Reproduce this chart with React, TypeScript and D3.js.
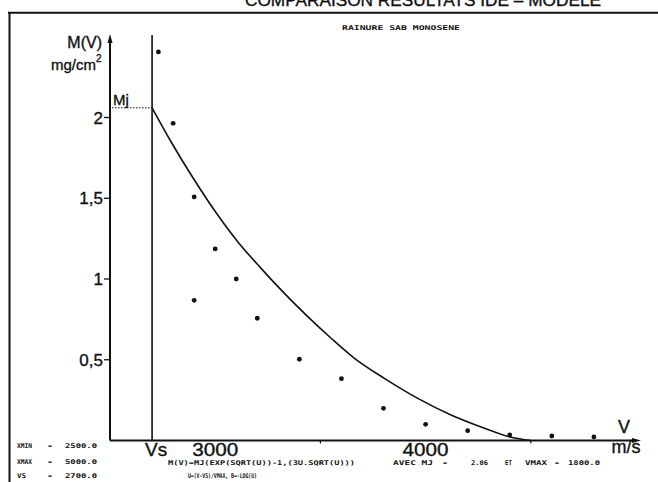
import React from "react";
import * as d3 from "d3";

// Measured points (IDE results): velocity V (m/s) and mass M(V) (mg/cm²)
const pointV = [2730, 2800, 2900, 2900, 3000, 3100, 3200, 3400, 3600, 3800, 4000, 4200, 4400, 4600, 4800];
const pointM = [2.406, 1.964, 1.508, 0.868, 1.186, 1.0, 0.757, 0.503, 0.383, 0.199, 0.1, 0.061, 0.034, 0.028, 0.022];

// Model curve
const curveV = [2700, 2790, 2901, 3012, 3107, 3218, 3329, 3440, 3551, 3662, 3804, 3963, 4121, 4280, 4406, 4500];
const curveM = [2.06, 1.85, 1.613, 1.396, 1.231, 1.066, 0.911, 0.767, 0.633, 0.509, 0.385, 0.261, 0.158, 0.076, 0.02, 0];

const yTicks = [0.5, 1, 1.5, 2];
const yTickLabels = ["0,5", "1", "1,5", "2"];
const xLabelTicks = [3000, 4000];
const xLabels = ["3000", "4000"];
const xMinorTicks = [3500, 4500];

const VS = 2700;
const MJ = 2.06;
const XMIN = 2500;
const XMAX = 5000;

const W = 658;
const H = 482;

const mono = "'DejaVu Sans Mono', monospace";
const sans = "'Liberation Sans', Arial, sans-serif";
const ink = "#111";
const thick = { stroke: ink, strokeWidth: 0.35 };

function Small({ x, y, w, t }: { x: number; y: number; w: number; t: string }) {
  return (
    <text x={x} y={y} fontFamily={mono} fontSize={6.5} fontWeight="bold" textLength={w} lengthAdjust="spacingAndGlyphs" fill={ink}>
      {t}
    </text>
  );
}

export default function App() {
  const x = d3.scaleLinear().domain([XMIN, XMAX]).range([110, 636]);
  const y = d3.scaleLinear().domain([0, 2.5]).range([440.5, 36.75]);

  const curveData = curveV.map((v, i) => [v, curveM[i]] as [number, number]);
  const line = d3
    .line<[number, number]>()
    .x((d) => x(d[0]))
    .y((d) => y(d[1]))
    .curve(d3.curveMonotoneX);

  const x0 = x(XMIN);
  const y0 = y(0);
  const xs = x(VS);

  return (
    <svg width={W} height={H} style={{ position: "absolute", left: 0, top: 0, background: "#fff" }}>
      <rect x={0} y={0} width={W} height={H} fill="#fff" />
      {/* title (cut at top) */}
      <text x={245} y={6} fontFamily={sans} fontSize={17} textLength={356} lengthAdjust="spacingAndGlyphs" fill={ink} {...thick}>
        COMPARAISON RESULTATS IDE – MODELE
      </text>
      {/* frame */}
      <line x1={8} x2={W} y1={12.8} y2={12.8} stroke={ink} strokeWidth={2} />
      <line x1={9.5} x2={9.5} y1={12} y2={H} stroke={ink} strokeWidth={2} />

      <Small x={342} y={30} w={118} t="RAINURE  SAB MONOSENE" />

      {/* axes */}
      <line x1={x0} x2={x0} y1={y0} y2={40} stroke={ink} strokeWidth={2} />
      <path d={`M${x0 - 2.5},${43} L${x0},${34} L${x0 + 2.5},${43} Z`} fill={ink} />
      <line x1={x0} x2={634} y1={y0} y2={y0} stroke={ink} strokeWidth={2} />
      <path d={`M${632},${y0 - 2.5} L${641},${y0} L${632},${y0 + 2.5} Z`} fill={ink} />

      {/* Vs line */}
      <line x1={xs} x2={xs} y1={35} y2={y0} stroke={ink} strokeWidth={1.6} />

      {/* y ticks */}
      {yTicks.map((t, i) => (
        <g key={t}>
          <line x1={x0 - 6} x2={x0} y1={y(t)} y2={y(t)} stroke={ink} strokeWidth={1.3} />
          <text x={x0 - 7} y={y(t)} dy="0.36em" textAnchor="end" fontFamily={sans} fontSize={17} fill={ink} {...thick}>
            {yTickLabels[i]}
          </text>
        </g>
      ))}

      {/* x ticks */}
      {xMinorTicks.map((t) => (
        <line key={t} x1={x(t)} x2={x(t)} y1={y0} y2={y0 + 3} stroke={ink} strokeWidth={1.2} />
      ))}
      {xLabelTicks.map((t, i) => (
        <text key={t} x={x(t)} y={456} textAnchor="middle" fontFamily={sans} fontSize={19} textLength={46} lengthAdjust="spacingAndGlyphs" fill={ink} {...thick}>
          {xLabels[i]}
        </text>
      ))}
      <text x={xs + 4} y={456} textAnchor="middle" fontFamily={sans} fontSize={19} fill={ink} {...thick}>
        Vs
      </text>

      {/* axis titles */}
      <text x={102} y={48} textAnchor="end" fontFamily={sans} fontSize={16} fill={ink} {...thick}>
        M(V)
      </text>
      <text x={96} y={70} textAnchor="end" fontFamily={sans} fontSize={15} fill={ink} {...thick}>
        mg/cm
      </text>
      <text x={96} y={62} fontFamily={sans} fontSize={10} fill={ink} {...thick}>
        2
      </text>
      <text x={624} y={433} textAnchor="middle" fontFamily={sans} fontSize={18} fill={ink} {...thick}>
        V
      </text>
      <text x={626} y={453} textAnchor="middle" fontFamily={sans} fontSize={18} fill={ink} {...thick}>
        m/s
      </text>

      {/* Mj */}
      <line x1={x0 + 2} x2={xs} y1={y(MJ)} y2={y(MJ)} stroke={ink} strokeWidth={1} strokeDasharray="1.5 1.5" />
      <text x={113} y={105} fontFamily={sans} fontSize={15} fill={ink} {...thick}>
        Mj
      </text>

      {/* model curve */}
      <path d={line(curveData) || ""} fill="none" stroke={ink} strokeWidth={1.6} />

      {/* measured points */}
      {pointV.map((v, i) => (
        <circle key={i} cx={x(v)} cy={y(pointM[i])} r={2.4} fill={ink} />
      ))}

      {/* bottom parameter texts */}
      <Small x={17} y={448} w={15} t="XMIN" />
      <Small x={48} y={448} w={4} t="=" />
      <Small x={65} y={448} w={32} t="2500.0" />
      <Small x={17} y={464} w={15} t="XMAX" />
      <Small x={48} y={464} w={4} t="=" />
      <Small x={65} y={464} w={32} t="5000.0" />
      <Small x={17} y={478} w={9} t="VS" />
      <Small x={48} y={478} w={4} t="=" />
      <Small x={65} y={478} w={32} t="2700.0" />
      <Small x={168} y={465} w={187} t="M(V)=MJ(EXP(SQRT(U))-1,(3U.SQRT(U)))" />
      <Small x={188} y={478} w={69} t="U=(V-VS)/VMAX, B=-LOG(U)" />
      <Small x={393} y={465} w={40} t="AVEC  MJ" />
      <Small x={443} y={465} w={4} t="=" />
      <Small x={471} y={465} w={17} t="2.06" />
      <Small x={505} y={465} w={7} t="ET" />
      <Small x={525} y={465} w={22} t="VMAX" />
      <Small x={555} y={465} w={4} t="=" />
      <Small x={568} y={465} w={32} t="1800.0" />
    </svg>
  );
}
